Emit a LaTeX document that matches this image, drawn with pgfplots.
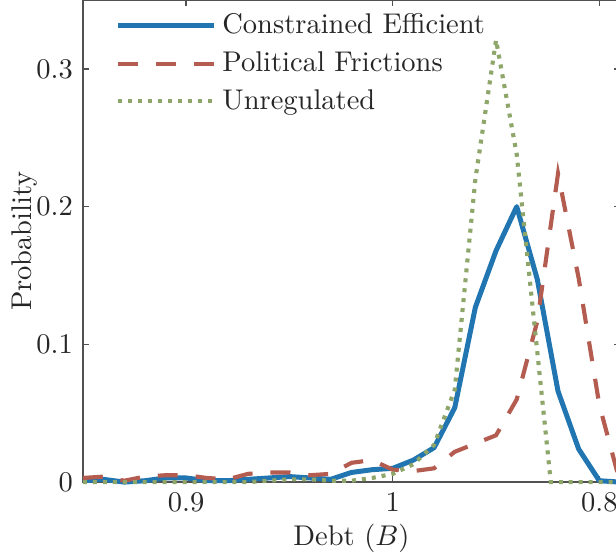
\documentclass[border=0pt]{standalone}
\usepackage{pgfplots}
\pgfplotsset{compat=1.18}
\usepackage{pgfplotstable}
\definecolor{cblue}{RGB}{33,117,176}
\definecolor{cred}{RGB}{180,92,80}
\definecolor{cgreen}{RGB}{142,166,106}
\definecolor{axgray}{RGB}{38,38,38}

\pgfplotstableread{
x y
0.85 0.001
0.86 0.002
0.87 0.000
0.88 0.001
0.89 0.003
0.90 0.003
0.91 0.001
0.92 0.001
0.93 0.002
0.94 0.003
0.95 0.004
0.96 0.003
0.97 0.002
0.98 0.007
0.99 0.009
1.00 0.010
1.01 0.016
1.02 0.025
1.03 0.054
1.04 0.127
1.05 0.168
1.06 0.200
1.07 0.147
1.08 0.066
1.09 0.024
1.10 0.001
1.11 0.000
}\blue

\pgfplotstableread{
x y
0.85 0.003
0.86 0.004
0.87 0.001
0.88 0.004
0.89 0.005
0.90 0.005
0.91 0.003
0.92 0.002
0.93 0.006
0.94 0.007
0.95 0.007
0.96 0.005
0.97 0.006
0.98 0.014
0.99 0.016
1.00 0.009
1.01 0.008
1.02 0.010
1.03 0.022
1.04 0.028
1.05 0.034
1.06 0.060
1.07 0.117
1.08 0.224
1.09 0.148
1.10 0.056
1.11 0.000
}\red

\pgfplotstableread{
x y
0.85 0.000
0.86 0.000
0.87 0.000
0.88 0.000
0.89 0.000
0.90 0.000
0.91 0.000
0.92 0.000
0.93 0.000
0.94 0.001
0.95 0.002
0.96 0.002
0.97 0.001
0.98 0.001
0.99 0.003
1.00 0.006
1.01 0.013
1.02 0.027
1.03 0.067
1.04 0.220
1.05 0.321
1.06 0.238
1.07 0.094
1.0765 0.000
1.08 0.000
1.09 0.000
1.10 0.000
1.11 0.000
}\green

\begin{document}
\begin{tikzpicture}
\begin{axis}[
  at={(0,0)}, anchor=south west,
  scale only axis, width=188.5pt, height=169.2pt,
  xmin=0.85, xmax=1.11, ymin=0, ymax=0.35,
  xtick={0.9,1,1.1}, xticklabels={0.9,1,0.8},
  ytick={0,0.1,0.2,0.3}, yticklabels={0,0.1,0.2,0.3},
  tick align=inside, major tick length=2.1pt,
  axis line style={axgray!80, line width=0.5pt},
  tick style={axgray!80, line width=0.5pt},
  ticklabel style={text=axgray},
  clip=false,
  xlabel={Debt ($B$)}, ylabel={Probability},
  x label style={at={(axis description cs:0.5,-0.117)}, anchor=center, text=axgray},
  y label style={at={(axis description cs:-0.108,0.5)}, anchor=center, text=axgray},
  legend cell align=left,
  legend image code/.code={\draw[#1] (0pt,0pt) -- (33.7pt,0pt);},
  legend style={draw=none, fill=none, at={(0.06,0.985)}, anchor=north west,
    inner sep=0pt, row sep=0.8pt, text=axgray},
]
\addplot[cblue, line width=1.75pt, line join=round] table[x=x,y=y] {\blue};
\addlegendentry{Constrained Efficient}
\addplot[cred, line width=1.45pt, dash pattern=on 7pt off 6.3pt] table[x=x,y=y] {\red};
\addlegendentry{Political Frictions}
\addplot[cgreen, line width=1.45pt, dash pattern=on 1.4pt off 2.1pt] table[x=x,y=y] {\green};
\addlegendentry{Unregulated}
\end{axis}
\pgfresetboundingbox
\path[use as bounding box] (-29.1pt,-24.6pt) rectangle (187.1pt,169.2pt);
\end{tikzpicture}
\end{document}
